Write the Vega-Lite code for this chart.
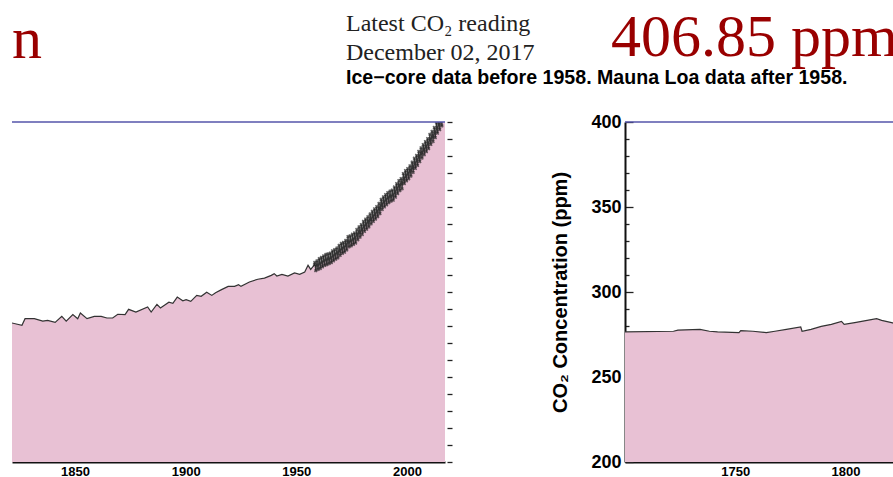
{
  "$schema": "https://vega.github.io/schema/vega-lite/v6.json",
  "background": "white",
  "padding": {"left": 11, "top": 8, "right": 0, "bottom": 0},
  "bounds": "flush",
  "spacing": 180,
  "config": {
    "view": {"stroke": null},
    "font": "Liberation Sans",
    "axis": {"grid": false, "labelFont": "Liberation Sans", "labelFontWeight": "bold", "labelColor": "#000", "domainColor": "#111", "domainWidth": 2, "tickColor": "#222", "tickWidth": 1.3, "titleColor": "#000"}
  },
  "datasets": {
    "co2": [
      {"year": 1700, "ppm": 276.5, "src": "ice"},
      {"year": 1722, "ppm": 276.9, "src": "ice"},
      {"year": 1724, "ppm": 277.6, "src": "ice"},
      {"year": 1734, "ppm": 278.0, "src": "ice"},
      {"year": 1738.3, "ppm": 276.9, "src": "ice"},
      {"year": 1742, "ppm": 276.5, "src": "ice"},
      {"year": 1751.7, "ppm": 276.1, "src": "ice"},
      {"year": 1752.5, "ppm": 277.3, "src": "ice"},
      {"year": 1758, "ppm": 276.9, "src": "ice"},
      {"year": 1764.1, "ppm": 276.1, "src": "ice"},
      {"year": 1768, "ppm": 276.9, "src": "ice"},
      {"year": 1773.2, "ppm": 278.0, "src": "ice"},
      {"year": 1779.7, "ppm": 279.4, "src": "ice"},
      {"year": 1780.3, "ppm": 276.9, "src": "ice"},
      {"year": 1784.4, "ppm": 278.0, "src": "ice"},
      {"year": 1789, "ppm": 279.8, "src": "ice"},
      {"year": 1793.6, "ppm": 281.0, "src": "ice"},
      {"year": 1798.2, "ppm": 282.7, "src": "ice"},
      {"year": 1799.4, "ppm": 281.0, "src": "ice"},
      {"year": 1804.2, "ppm": 282.0, "src": "ice"},
      {"year": 1814.1, "ppm": 284.3, "src": "ice"},
      {"year": 1816.4, "ppm": 283.3, "src": "ice"},
      {"year": 1821.4, "ppm": 281.8, "src": "ice"},
      {"year": 1826, "ppm": 280.4, "src": "ice"},
      {"year": 1827.4, "ppm": 284.3, "src": "ice"},
      {"year": 1831.6, "ppm": 284.3, "src": "ice"},
      {"year": 1835.4, "ppm": 282.9, "src": "ice"},
      {"year": 1837.6, "ppm": 283.3, "src": "ice"},
      {"year": 1841, "ppm": 282.1, "src": "ice"},
      {"year": 1844, "ppm": 285.7, "src": "ice"},
      {"year": 1846, "ppm": 282.9, "src": "ice"},
      {"year": 1849, "ppm": 286.7, "src": "ice"},
      {"year": 1851.2, "ppm": 284.3, "src": "ice"},
      {"year": 1852.4, "ppm": 287.6, "src": "ice"},
      {"year": 1855.4, "ppm": 284.3, "src": "ice"},
      {"year": 1858.7, "ppm": 285.7, "src": "ice"},
      {"year": 1861.8, "ppm": 285.7, "src": "ice"},
      {"year": 1864.4, "ppm": 284.7, "src": "ice"},
      {"year": 1867, "ppm": 284.7, "src": "ice"},
      {"year": 1869.3, "ppm": 286.9, "src": "ice"},
      {"year": 1872.6, "ppm": 286.7, "src": "ice"},
      {"year": 1874.2, "ppm": 289.8, "src": "ice"},
      {"year": 1877.5, "ppm": 288.2, "src": "ice"},
      {"year": 1882.8, "ppm": 291.2, "src": "ice"},
      {"year": 1884.4, "ppm": 288.2, "src": "ice"},
      {"year": 1887, "ppm": 292.7, "src": "ice"},
      {"year": 1888.6, "ppm": 290.6, "src": "ice"},
      {"year": 1892.4, "ppm": 294.0, "src": "ice"},
      {"year": 1894.2, "ppm": 293.3, "src": "ice"},
      {"year": 1896.2, "ppm": 297.0, "src": "ice"},
      {"year": 1898.7, "ppm": 294.8, "src": "ice"},
      {"year": 1900.2, "ppm": 295.5, "src": "ice"},
      {"year": 1902.3, "ppm": 294.5, "src": "ice"},
      {"year": 1905, "ppm": 298.0, "src": "ice"},
      {"year": 1907, "ppm": 297.5, "src": "ice"},
      {"year": 1909.5, "ppm": 299.8, "src": "ice"},
      {"year": 1911.8, "ppm": 298.0, "src": "ice"},
      {"year": 1913.5, "ppm": 299.6, "src": "ice"},
      {"year": 1916.2, "ppm": 301.4, "src": "ice"},
      {"year": 1919.2, "ppm": 303.3, "src": "ice"},
      {"year": 1922.1, "ppm": 303.3, "src": "ice"},
      {"year": 1923.9, "ppm": 304.3, "src": "ice"},
      {"year": 1925, "ppm": 303.3, "src": "ice"},
      {"year": 1928.8, "ppm": 305.9, "src": "ice"},
      {"year": 1932.6, "ppm": 307.5, "src": "ice"},
      {"year": 1935.6, "ppm": 308.2, "src": "ice"},
      {"year": 1938.7, "ppm": 309.8, "src": "ice"},
      {"year": 1940, "ppm": 310.8, "src": "ice"},
      {"year": 1941.2, "ppm": 309.4, "src": "ice"},
      {"year": 1943.5, "ppm": 310.4, "src": "ice"},
      {"year": 1946.2, "ppm": 309.4, "src": "ice"},
      {"year": 1949.2, "ppm": 311.2, "src": "ice"},
      {"year": 1951.5, "ppm": 310.4, "src": "ice"},
      {"year": 1953.8, "ppm": 311.8, "src": "ice"},
      {"year": 1955.3, "ppm": 315.7, "src": "ice"},
      {"year": 1956.5, "ppm": 313.3, "src": "ice"},
      {"year": 1958.2, "ppm": 316.0, "src": "mlo"},
      {"year": 1958.37, "ppm": 317.5, "src": "mlo"},
      {"year": 1958.79, "ppm": 312.5, "src": "mlo"},
      {"year": 1959.37, "ppm": 318.3, "src": "mlo"},
      {"year": 1959.79, "ppm": 313.3, "src": "mlo"},
      {"year": 1960.37, "ppm": 319.6, "src": "mlo"},
      {"year": 1960.79, "ppm": 313.8, "src": "mlo"},
      {"year": 1961.37, "ppm": 320.4, "src": "mlo"},
      {"year": 1961.79, "ppm": 314.8, "src": "mlo"},
      {"year": 1962.37, "ppm": 321.3, "src": "mlo"},
      {"year": 1962.79, "ppm": 315.6, "src": "mlo"},
      {"year": 1963.37, "ppm": 322.1, "src": "mlo"},
      {"year": 1963.79, "ppm": 316.1, "src": "mlo"},
      {"year": 1964.37, "ppm": 322.4, "src": "mlo"},
      {"year": 1964.79, "ppm": 316.7, "src": "mlo"},
      {"year": 1965.37, "ppm": 322.9, "src": "mlo"},
      {"year": 1965.79, "ppm": 317.3, "src": "mlo"},
      {"year": 1966.37, "ppm": 324.2, "src": "mlo"},
      {"year": 1966.79, "ppm": 318.3, "src": "mlo"},
      {"year": 1967.37, "ppm": 325.0, "src": "mlo"},
      {"year": 1967.79, "ppm": 319.3, "src": "mlo"},
      {"year": 1968.37, "ppm": 325.9, "src": "mlo"},
      {"year": 1968.79, "ppm": 320.0, "src": "mlo"},
      {"year": 1969.37, "ppm": 327.5, "src": "mlo"},
      {"year": 1969.79, "ppm": 321.5, "src": "mlo"},
      {"year": 1970.37, "ppm": 328.6, "src": "mlo"},
      {"year": 1970.79, "ppm": 322.7, "src": "mlo"},
      {"year": 1971.37, "ppm": 329.2, "src": "mlo"},
      {"year": 1971.79, "ppm": 323.4, "src": "mlo"},
      {"year": 1972.37, "ppm": 330.4, "src": "mlo"},
      {"year": 1972.79, "ppm": 324.7, "src": "mlo"},
      {"year": 1973.37, "ppm": 332.6, "src": "mlo"},
      {"year": 1973.79, "ppm": 326.5, "src": "mlo"},
      {"year": 1974.37, "ppm": 333.1, "src": "mlo"},
      {"year": 1974.79, "ppm": 327.1, "src": "mlo"},
      {"year": 1975.37, "ppm": 334.0, "src": "mlo"},
      {"year": 1975.79, "ppm": 328.0, "src": "mlo"},
      {"year": 1976.37, "ppm": 334.8, "src": "mlo"},
      {"year": 1976.79, "ppm": 328.8, "src": "mlo"},
      {"year": 1977.37, "ppm": 336.8, "src": "mlo"},
      {"year": 1977.79, "ppm": 330.7, "src": "mlo"},
      {"year": 1978.37, "ppm": 338.3, "src": "mlo"},
      {"year": 1978.79, "ppm": 332.3, "src": "mlo"},
      {"year": 1979.37, "ppm": 339.7, "src": "mlo"},
      {"year": 1979.79, "ppm": 333.8, "src": "mlo"},
      {"year": 1980.37, "ppm": 341.6, "src": "mlo"},
      {"year": 1980.79, "ppm": 335.6, "src": "mlo"},
      {"year": 1981.37, "ppm": 342.9, "src": "mlo"},
      {"year": 1981.79, "ppm": 336.9, "src": "mlo"},
      {"year": 1982.37, "ppm": 344.3, "src": "mlo"},
      {"year": 1982.79, "ppm": 338.3, "src": "mlo"},
      {"year": 1983.37, "ppm": 345.9, "src": "mlo"},
      {"year": 1983.79, "ppm": 340.0, "src": "mlo"},
      {"year": 1984.37, "ppm": 347.5, "src": "mlo"},
      {"year": 1984.79, "ppm": 341.5, "src": "mlo"},
      {"year": 1985.37, "ppm": 348.9, "src": "mlo"},
      {"year": 1985.79, "ppm": 342.9, "src": "mlo"},
      {"year": 1986.37, "ppm": 350.3, "src": "mlo"},
      {"year": 1986.79, "ppm": 344.3, "src": "mlo"},
      {"year": 1987.37, "ppm": 352.1, "src": "mlo"},
      {"year": 1987.79, "ppm": 346.1, "src": "mlo"},
      {"year": 1988.37, "ppm": 354.5, "src": "mlo"},
      {"year": 1988.79, "ppm": 348.5, "src": "mlo"},
      {"year": 1989.37, "ppm": 356.0, "src": "mlo"},
      {"year": 1989.79, "ppm": 350.0, "src": "mlo"},
      {"year": 1990.37, "ppm": 357.3, "src": "mlo"},
      {"year": 1990.79, "ppm": 351.3, "src": "mlo"},
      {"year": 1991.37, "ppm": 358.5, "src": "mlo"},
      {"year": 1991.79, "ppm": 352.5, "src": "mlo"},
      {"year": 1992.37, "ppm": 359.4, "src": "mlo"},
      {"year": 1992.79, "ppm": 353.4, "src": "mlo"},
      {"year": 1993.37, "ppm": 360.0, "src": "mlo"},
      {"year": 1993.79, "ppm": 354.0, "src": "mlo"},
      {"year": 1994.37, "ppm": 361.8, "src": "mlo"},
      {"year": 1994.79, "ppm": 355.8, "src": "mlo"},
      {"year": 1995.37, "ppm": 363.8, "src": "mlo"},
      {"year": 1995.79, "ppm": 357.8, "src": "mlo"},
      {"year": 1996.37, "ppm": 365.6, "src": "mlo"},
      {"year": 1996.79, "ppm": 359.6, "src": "mlo"},
      {"year": 1997.37, "ppm": 366.7, "src": "mlo"},
      {"year": 1997.79, "ppm": 360.7, "src": "mlo"},
      {"year": 1998.37, "ppm": 369.7, "src": "mlo"},
      {"year": 1998.79, "ppm": 363.7, "src": "mlo"},
      {"year": 1999.37, "ppm": 371.4, "src": "mlo"},
      {"year": 1999.79, "ppm": 365.4, "src": "mlo"},
      {"year": 2000.37, "ppm": 372.6, "src": "mlo"},
      {"year": 2000.79, "ppm": 366.6, "src": "mlo"},
      {"year": 2001.37, "ppm": 374.2, "src": "mlo"},
      {"year": 2001.79, "ppm": 368.2, "src": "mlo"},
      {"year": 2002.37, "ppm": 376.4, "src": "mlo"},
      {"year": 2002.79, "ppm": 370.4, "src": "mlo"},
      {"year": 2003.37, "ppm": 378.7, "src": "mlo"},
      {"year": 2003.79, "ppm": 372.7, "src": "mlo"},
      {"year": 2004.37, "ppm": 380.4, "src": "mlo"},
      {"year": 2004.79, "ppm": 374.4, "src": "mlo"},
      {"year": 2005.37, "ppm": 382.7, "src": "mlo"},
      {"year": 2005.79, "ppm": 376.7, "src": "mlo"},
      {"year": 2006.37, "ppm": 384.8, "src": "mlo"},
      {"year": 2006.79, "ppm": 378.8, "src": "mlo"},
      {"year": 2007.37, "ppm": 386.7, "src": "mlo"},
      {"year": 2007.79, "ppm": 380.7, "src": "mlo"},
      {"year": 2008.37, "ppm": 388.5, "src": "mlo"},
      {"year": 2008.79, "ppm": 382.5, "src": "mlo"},
      {"year": 2009.37, "ppm": 390.3, "src": "mlo"},
      {"year": 2009.79, "ppm": 384.3, "src": "mlo"},
      {"year": 2010.37, "ppm": 392.8, "src": "mlo"},
      {"year": 2010.79, "ppm": 386.8, "src": "mlo"},
      {"year": 2011.37, "ppm": 394.5, "src": "mlo"},
      {"year": 2011.79, "ppm": 388.5, "src": "mlo"},
      {"year": 2012.37, "ppm": 396.8, "src": "mlo"},
      {"year": 2012.79, "ppm": 390.8, "src": "mlo"},
      {"year": 2013.37, "ppm": 399.4, "src": "mlo"},
      {"year": 2013.79, "ppm": 393.4, "src": "mlo"},
      {"year": 2014.37, "ppm": 401.5, "src": "mlo"},
      {"year": 2014.79, "ppm": 395.5, "src": "mlo"},
      {"year": 2015.37, "ppm": 403.7, "src": "mlo"},
      {"year": 2015.79, "ppm": 397.7, "src": "mlo"},
      {"year": 2016.37, "ppm": 407.1, "src": "mlo"},
      {"year": 2016.79, "ppm": 401.1, "src": "mlo"},
      {"year": 2017.37, "ppm": 409.5, "src": "mlo"},
      {"year": 2017.79, "ppm": 403.5, "src": "mlo"},
      {"year": 2017.92, "ppm": 406.85, "src": "mlo"}
    ]
  },
  "hconcat": [
    {
      "width": 433,
      "height": 340,
      "encoding": {
        "x": {
          "field": "year",
          "type": "quantitative",
          "scale": {"domain": [1821.5, 2017.2], "nice": false, "zero": false},
          "axis": {
            "title": null,
            "values": [1830, 1840, 1850, 1860, 1870, 1880, 1890, 1900, 1910, 1920, 1930, 1940, 1950, 1960, 1970, 1980, 1990, 2000, 2010],
            "format": "d",
            "labelExpr": "datum.value % 50 === 0 ? datum.label : ''",
            "labelFontSize": 13,
            "labelPadding": 11,
            "tickSize": {"condition": {"test": "datum.value % 50 === 0", "value": -8}, "value": -4}
          }
        },
        "y": {
          "field": "ppm",
          "type": "quantitative",
          "scale": {"domain": [200, 400], "nice": false, "zero": false},
          "axis": {
            "orient": "right",
            "title": null,
            "labels": false,
            "domain": false,
            "offset": 2,
            "tickSize": 5,
            "values": [200, 210, 220, 230, 240, 250, 260, 270, 280, 290, 300, 310, 320, 330, 340, 350, 360, 370, 380, 390, 400]
          }
        }
      },
      "layer": [
        {"data": {"name": "co2"}, "mark": {"type": "area", "color": "#e8c1d4", "clip": true}},
        {"data": {"name": "co2"}, "mark": {"type": "line", "color": "#333333", "strokeWidth": 1.2, "clip": true}},
        {
          "data": {"name": "co2"},
          "transform": [{"filter": "datum.src === 'mlo'"}],
          "mark": {"type": "point", "shape": "cross", "angle": 45, "size": 14, "filled": true, "color": "#222222", "clip": true}
        },
        {
          "data": {"values": [{"ref": 400}]},
          "mark": {"type": "rule", "color": "#5555aa", "strokeWidth": 1.5},
          "encoding": {"x": null, "y": {"field": "ref", "type": "quantitative"}}
        },
        {
          "data": {"values": [{"year": 1821.5, "ppm": 437.6, "label": "n"}]},
          "mark": {"type": "text", "font": "Liberation Serif", "fontSize": 60, "color": "#990000", "align": "left", "baseline": "alphabetic"},
          "encoding": {"text": {"field": "label"}}
        },
        {
          "data": {"values": [
            {"year": 1972.45, "ppm": 453.5, "label": "Latest CO₂ reading"},
            {"year": 1972.45, "ppm": 436.5, "label": "December 02, 2017"}
          ]},
          "mark": {"type": "text", "font": "Liberation Serif", "fontSize": 24, "color": "#222222", "align": "left", "baseline": "alphabetic"},
          "encoding": {"text": {"field": "label"}}
        },
        {
          "data": {"values": [{"year": 1972.45, "ppm": 422.4, "label": "Ice−core data before 1958. Mauna Loa data after 1958."}]},
          "mark": {"type": "text", "font": "Liberation Sans", "fontSize": 19.6, "fontWeight": "bold", "color": "#000000", "align": "left", "baseline": "alphabetic"},
          "encoding": {"text": {"field": "label"}}
        }
      ]
    },
    {
      "width": 269,
      "height": 340,
      "encoding": {
        "x": {
          "field": "year",
          "type": "quantitative",
          "scale": {"domain": [1700, 1822], "nice": false, "zero": false},
          "axis": {
            "title": null,
            "values": [1710, 1720, 1730, 1740, 1750, 1760, 1770, 1780, 1790, 1800, 1810, 1820],
            "format": "d",
            "labelExpr": "datum.value % 50 === 0 ? datum.label : ''",
            "labelFontSize": 13,
            "labelPadding": 11,
            "tickSize": {"condition": {"test": "datum.value % 50 === 0", "value": -8}, "value": -4}
          }
        },
        "y": {
          "field": "ppm",
          "type": "quantitative",
          "scale": {"domain": [200, 400], "nice": false, "zero": false},
          "axis": {
            "title": "CO₂ Concentration (ppm)",
            "titleFont": "Liberation Sans",
            "titleFontSize": 20,
            "titleFontWeight": "bold",
            "titlePadding": 20,
            "values": [200, 210, 220, 230, 240, 250, 260, 270, 280, 290, 300, 310, 320, 330, 340, 350, 360, 370, 380, 390, 400],
            "labelExpr": "datum.value % 50 === 0 ? datum.label : ''",
            "labelFontSize": 18,
            "labelPadding": 12,
            "tickSize": {"condition": {"test": "datum.value % 50 === 0", "value": -8}, "value": -4}
          }
        }
      },
      "layer": [
        {"data": {"name": "co2"}, "mark": {"type": "area", "color": "#e8c1d4", "clip": true}},
        {"data": {"name": "co2"}, "mark": {"type": "line", "color": "#333333", "strokeWidth": 1.2, "clip": true}},
        {
          "data": {"values": [{"ref": 400}]},
          "mark": {"type": "rule", "color": "#5555aa", "strokeWidth": 1.5},
          "encoding": {"x": null, "y": {"field": "ref", "type": "quantitative"}}
        },
        {
          "data": {"values": [{"year": 1693.65, "ppm": 438.8, "label": "406.85 ppm"}]},
          "mark": {"type": "text", "font": "Liberation Serif", "fontSize": 60, "color": "#990000", "align": "left", "baseline": "alphabetic"},
          "encoding": {"text": {"field": "label"}}
        }
      ]
    }
  ]
}
